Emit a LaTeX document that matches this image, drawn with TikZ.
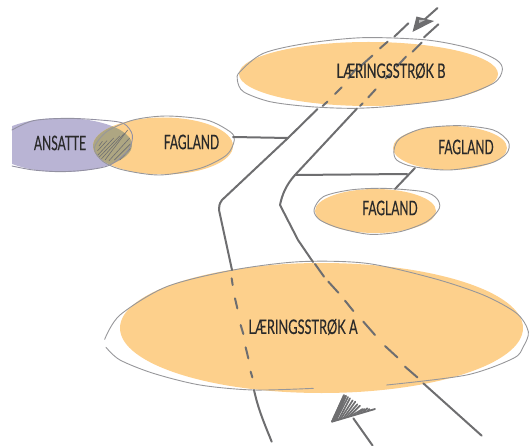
\documentclass[tikz,border=0pt]{standalone}
\usepackage{fontspec}
\newfontfamily\shortlabel[FakeStretch=0.60,FakeBold=0.25]{Lato}
\newfontfamily\longlabel[FakeStretch=0.64,FakeBold=0.25]{Lato}
\usetikzlibrary{shapes.geometric}
\definecolor{peach}{HTML}{FDD08C}
\definecolor{lilac}{HTML}{B9B4D4}
\definecolor{olive}{HTML}{AEA682}
\definecolor{roadgray}{HTML}{6E6E70}
\definecolor{thingray}{HTML}{97979A}
\definecolor{ink}{HTML}{2A2A2A}
\tikzset{
  blob/.style={ellipse,inner sep=0pt,fill=#1,draw=none},
  shorttext/.style={font=\shortlabel\fontsize{20}{21}\selectfont,text=ink,inner sep=0pt},
  longtext/.style={font=\longlabel\fontsize{20}{21}\selectfont,text=ink,inner sep=0pt},
  road/.style={draw=roadgray,line width=2pt,line cap=round,line join=round},
  sketch/.style={draw=thingray,line width=.9pt,line cap=round,line join=round},
  hatch/.style={draw=roadgray,line width=.6pt,line cap=round},
  zoomA/.style={shift={(0,90)},x=.33333pt,y=-.33333pt},
  zoomB/.style={shift={(220,0)},x=.33333pt,y=-.33333pt},
  zoomC/.style={shift={(210,120)},x=.33333pt,y=-.33333pt},
  zoomD/.style={shift={(100,250)},x=.33333pt,y=-.33333pt},
  zoomE/.style={shift={(85,110)},x=.33333pt,y=-.33333pt},
  zoomF/.style={shift={(320,385)},x=.33333pt,y=-.33333pt},
}
\begin{document}
\begin{tikzpicture}[x=1pt,y=-1pt]
\useasboundingbox (0,0) rectangle (529,446);
% fills
\begin{scope}
\clip (12,0) rectangle (529,446);
\node[blob=lilac,minimum width=140pt,minimum height=54pt] (ansatteBlob) at (62,145) {};
\end{scope}
\node[blob=peach,minimum width=140pt,minimum height=57pt] (fag1Blob) at (163,146) {};
\begin{scope}
\clip (62,145) ellipse [x radius=70pt,y radius=27pt];
\fill[olive] (163,146) ellipse [x radius=70pt,y radius=28.5pt];
\end{scope}
\node[blob=peach,minimum width=259pt,minimum height=64pt] (stripBBlob) at (368.5,74) {};
\node[blob=peach,minimum width=114pt,minimum height=44pt] (fag2Blob) at (450,148) {};
\node[blob=peach,minimum width=121pt,minimum height=44pt] (fag3Blob) at (375.5,211) {};
\node[blob=peach,minimum width=403pt,minimum height=130pt] (stripABlob) at (321.5,328) {};
% hatching
\begin{scope}[zoomE]
\foreach \a/\b/\c/\d in {38/122/66/92, 36/138/86/84, 42/142/104/78, 50/146/118/70, 60/150/128/60, 72/152/134/84, 88/150/136/102, 104/150/136/116, 42/108/52/94}
  \draw[hatch] (\a,\b) -- (\c,\d);
\end{scope}
% sketched outlines
\begin{scope}[zoomA]
\draw[sketch,draw=lilac!50!roadgray] plot[smooth] coordinates {(36,120)(100,92)(200,85)(300,90)(370,100)(397,135)(385,180)(330,225)(260,240)(180,245)(100,240)(36,228)};
\draw[sketch] plot[smooth cycle] coordinates {(283,175)(320,125)(400,90)(500,78)(620,90)(690,125)(703,150)(680,195)(600,235)(480,255)(370,240)(310,215)};
\end{scope}
\begin{scope}[zoomB]
\draw[sketch] plot[smooth cycle] coordinates {(60,215)(130,160)(260,130)(430,113)(620,120)(750,145)(830,180)(847,210)(820,250)(700,295)(520,318)(400,325)(270,320)(150,305)(70,275)(52,240)};
\end{scope}
\begin{scope}[zoomC]
\draw[sketch] plot[smooth cycle] coordinates {(552,90)(570,55)(640,25)(750,17)(850,30)(895,65)(890,100)(840,130)(720,150)(610,140)(560,120)};
\draw[sketch] plot[smooth cycle] coordinates {(312,270)(340,230)(420,210)(520,205)(640,215)(680,235)(688,265)(650,305)(570,335)(480,343)(390,325)(330,300)};
\end{scope}
\begin{scope}[zoomD]
\draw[sketch] plot[smooth] coordinates {(640,415)(460,420)(300,405)(160,370)(60,330)(18,292)};
\draw[sketch] plot[smooth] coordinates {(14,268)(60,195)(200,110)(400,60)(600,35)(800,40)(1000,85)(1150,135)(1250,190)(1285,245)(1270,290)(1240,325)(1100,375)(860,405)};
\end{scope}
% named junctions
\coordinate (leftTop) at (317.5,109);
\coordinate (leftJoin) at (288,138);
\coordinate (rightTop) at (357,108.5);
\coordinate (rightJoin) at (295,175);
\coordinate (fag2Join) at (407,174);
\coordinate (fag1Edge) at (233,137);
\coordinate (fag2Edge) at (415,168);
\coordinate (fag3Edge) at (395,189);
\coordinate (leftEnd) at (232,270);
\coordinate (rightEnd) at (313,262);
% solid streams
\draw[road] (fag1Edge) -- (leftJoin);
\draw[road] (rightJoin) -- (fag2Join);
\draw[road] (fag2Edge) -- (fag3Edge);
\draw[road] (leftTop) -- (leftJoin) -- (222,200) .. controls (219,204) and (219,207) .. (219,210) -- (leftEnd);
\draw[road] (rightTop) -- (rightJoin) .. controls (286,185) and (282,195) .. (280,205) -- (298,240) -- (rightEnd);
% dashes, top
\begin{scope}[zoomB]
\foreach \a/\b/\c/\d in {565/70/523/110, 503/125/480/145, 457/167/420/200, 410/205/385/235, 365/262/345/282, 322/305/308/318, 655/73/612/112, 605/128/578/155, 558/170/530/200, 510/222/497/235, 467/268/445/292, 428/310/420/318}
  \draw[road] (\a,\b) -- (\c,\d);
\end{scope}
% dashes, bottom
\begin{scope}[zoomD]
\foreach \a/\b/\c/\d in {395/85/398/105, 405/145/412/175, 422/225/430/252, 437/292/445/325, 452/365/457/382, 645/42/672/80, 685/95/715/128, 735/152/760/183, 790/215/825/255, 855/288/892/322, 915/350/952/382}
  \draw[road] (\a,\b) -- (\c,\d);
\draw[road] (462,420) .. controls (475,480) and (495,525) .. (515,575);
\draw[road] (970,400) -- (1145,557);
\end{scope}
% top arrow
\coordinate (arrowTopA) at (437.5,8);
\coordinate (arrowTopB) at (424,20);
\draw[road] (arrowTopA) -- (arrowTopB);
\fill[fill=roadgray] (416.5,16.5) -- (434,21) -- (412.5,32) -- cycle;
\fill[fill=roadgray!45!white] (419,20) -- (425,20) -- (419,23) -- cycle;
% bottom arrow
\begin{scope}[zoomF]
\coordinate (arrowBotA) at (100,100);
\coordinate (arrowBotB) at (158,182);
\draw[road] (arrowBotA) -- (arrowBotB);
\fill[fill=roadgray] (33,110) -- (70,30) -- (80,34) -- (50,106) -- cycle;
\draw[road,line width=1.8pt] (36,110) -- (165,72);
\foreach \a/\b/\c/\d in {36/110/72/30, 42/108/78/32, 48/106/84/36, 56/104/90/40, 62/102/98/46, 70/100/106/50, 78/97/112/58, 88/94/120/62, 98/90/128/72, 112/86/134/72, 128/82/142/70, 142/78/148/72}
  \draw[road,line width=1.7pt] (\a,\b) -- (\c,\d);
\end{scope}
% labels
\node[shorttext] (ansatteText) at (60,143) {ANSATTE};
\node[shorttext] (fag1Text) at (191.5,142) {FAGLAND};
\node[longtext] (stripBText) at (391,71) {LÆRINGSSTRØK B};
\node[shorttext] (fag2Text) at (466,147) {FAGLAND};
\node[shorttext] (fag3Text) at (390,208) {FAGLAND};
\node[longtext] (stripAText) at (303,327) {LÆRINGSSTRØK A};
\end{tikzpicture}
\end{document}
